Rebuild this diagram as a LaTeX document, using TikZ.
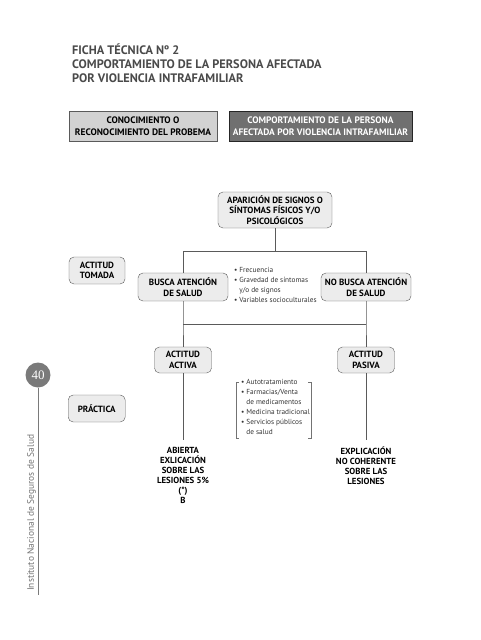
\documentclass[tikz,border=0pt]{standalone}
\usepackage{fontspec}
\setmainfont{PT Sans}
\newfontfamily\numfont{Liberation Serif}
\usepackage{tikz}
\usetikzlibrary{shadows, calc}

\definecolor{titlegray}{HTML}{4A4A4A}
\definecolor{boxlight}{HTML}{D2D2D2}
\definecolor{boxdark}{HTML}{707070}
\definecolor{roundfill}{HTML}{ECECEC}
\definecolor{linegray}{HTML}{5A5A5A}
\definecolor{pagegray}{HTML}{7A7A7A}

\tikzset{
  headbox/.style={rectangle, draw=linegray, fill=boxlight, minimum width=148, minimum height=30,
    align=center, inner sep=0.5pt, font=\fontsize{9.4}{11.5}\selectfont\bfseries},
  darkbox/.style={headbox, draw=black!85, fill=boxdark, text=white,
    drop shadow={shadow xshift=1pt, shadow yshift=-1pt, opacity=0.6}},
  stagebox/.style={rectangle, rounded corners=5pt, draw=linegray, fill=roundfill,
    align=center, inner sep=0.5pt, font=\fontsize{9}{10.5}\selectfont\bfseries},
  factlist/.style={align=left, inner sep=0pt, anchor=north west, text=black!80,
    font=\fontsize{7.3}{10}\selectfont},
  outcome/.style={align=center, inner sep=0pt, anchor=north,
    font=\fontsize{8.8}{10}\selectfont\bfseries},
  link/.style={draw=linegray, line width=0.6pt}
}

\begin{document}
\begin{tikzpicture}[x=1pt, y=-1pt]
  \useasboundingbox (0,0) rectangle (480,640);

  % title
  \node[anchor=west, align=left, text=titlegray, inner sep=0pt,
    font=\fontsize{12.3}{14}\selectfont\bfseries] (title) at (72,63)
    {FICHA TÉCNICA Nº 2\\COMPORTAMIENTO DE LA PERSONA AFECTADA\\POR VIOLENCIA INTRAFAMILIAR};

  % header boxes
  \node[headbox] (conoc) at (143,126) {CONOCIMIENTO O\\RECONOCIMIENTO DEL PROBEMA};
  \node[darkbox, minimum width=183] (comport) at (320.5,126) {COMPORTAMIENTO DE LA PERSONA\\AFECTADA POR VIOLENCIA INTRAFAMILIAR};

  % flow
  \node[stagebox, minimum width=114, minimum height=36] (aparicion) at (275,210)
    {APARICIÓN DE SIGNOS O\\SÍNTOMAS FÍSICOS Y/O\\PSICOLÓGICOS};
  \node[stagebox, minimum width=56, minimum height=27] (tomada) at (97,270.5) {ACTITUD\\TOMADA};
  \node[stagebox, minimum width=90, minimum height=28] (busca) at (183,287) {BUSCA ATENCIÓN\\DE SALUD};
  \node[stagebox, minimum width=90, minimum height=28] (nobusca) at (366,287) {NO BUSCA ATENCIÓN\\DE SALUD};
  \node[stagebox, minimum width=57, minimum height=26] (activa) at (183,360) {ACTITUD\\ACTIVA};
  \node[stagebox, minimum width=57, minimum height=26] (pasiva) at (366,360) {ACTITUD\\PASIVA};
  \node[stagebox, minimum width=57, minimum height=27, anchor=west] (practica) at (68,408.5) {PRÁCTICA};

  % factors
  \node[factlist] (factores) at (234,267)
    {\textbullet\ Frecuencia\\\textbullet\ Gravedad de síntomas\\\hphantom{\textbullet\ }y/o de signos\\\textbullet\ Variables socioculturales};
  \node[factlist] (recursos) at (241,379)
    {\textbullet\ Autotratamiento\\\textbullet\ Farmacias/Venta\\\hphantom{\textbullet\ }de medicamentos\\\textbullet\ Medicina tradicional\\\textbullet\ Servicios públicos\\\hphantom{\textbullet\ }de salud};
  \draw[black!55, line width=0.4pt] (239,382) -- (236,382) -- (236,438) -- (239,438);
  \draw[black!55, line width=0.4pt] (308,382) -- (311,382) -- (311,438) -- (308,438);

  % outcomes
  \node[outcome] (abierta) at (183,447) {ABIERTA\\EXLICACIÓN\\SOBRE LAS\\LESIONES 5\%\\(*)\\B};
  \node[outcome] (explic) at (366,447) {EXPLICACIÓN\\NO COHERENTE\\SOBRE LAS\\LESIONES};

  % connectors
  \coordinate (jL) at (183,251);
  \coordinate (jR) at (366,251);
  \coordinate (kL) at (183,324);
  \coordinate (kR) at (366,324);
  \coordinate (eL) at (183,440);
  \coordinate (eR) at (366,440);
  \draw[link] (aparicion) -- (aparicion |- jL);
  \draw[link] (jL) -- (jR);
  \draw[link] (jL) -- (busca);
  \draw[link] (jR) -- (nobusca);
  \draw[link] (busca) -- (kL) -- (activa);
  \draw[link] (nobusca) -- (kR) -- (pasiva);
  \draw[link] (kL) -- (kR);
  \draw[link] (activa) -- (eL);
  \draw[link] (pasiva) -- (eR);

  % page margin
  \node[circle, fill=pagegray, minimum size=25, inner sep=0pt, text=white,
    font=\numfont\fontsize{13}{13}\selectfont] (pagina) at (38,375) {40};
  \coordinate (margenfin) at (38,595);
  \draw[pagegray, line width=0.8pt] (pagina) -- (margenfin);
  \node[rotate=90, anchor=south west, inner sep=1pt, text=black!55,
    font=\fontsize{9.4}{10}\selectfont] (instituto) at (37,592) {Instituto Nacional de Seguros de Salud};
\end{tikzpicture}
\end{document}
